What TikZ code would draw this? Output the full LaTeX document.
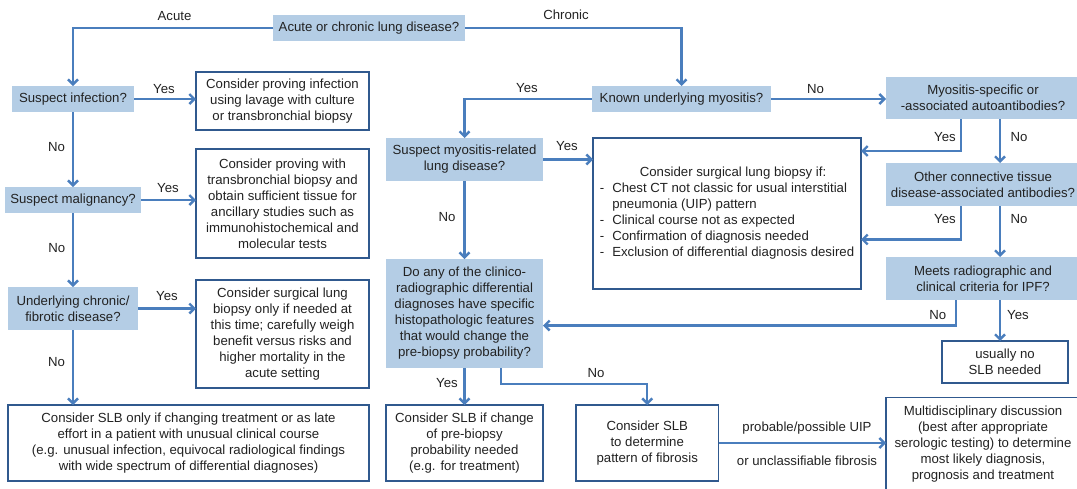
\documentclass[tikz,border=0pt]{standalone}
\usepackage{fontspec}
\setmainfont{Liberation Sans}
\usetikzlibrary{arrows.meta}

\definecolor{qfill}{HTML}{B4CDE5}
\definecolor{conncol}{HTML}{4A7EBD}
\definecolor{boxedge}{HTML}{30598E}
\definecolor{txt}{HTML}{222222}

\tikzset{
  base/.style={inner sep=0pt, outer sep=0pt, align=center, text=txt,
    font=\fontsize{13.2}{16}\selectfont},
  qbox/.style={base, fill=qfill},
  abox/.style={base, draw=boxedge, line width=1.1pt, fill=white},
  conn/.style={draw=conncol, line width=2.4pt,
    -{Straight Barb[length=5pt,width=10pt]}},
  lbl/.style={base, text height=9.5pt, text depth=0pt},
}

\begin{document}
\begin{tikzpicture}[x=1pt,y=-1pt]
\useasboundingbox (0,0) rectangle (1077,488);
\clip (0,0) rectangle (1077,488);

% ---- question boxes (filled) ----
\node[qbox, minimum width=192pt, minimum height=26pt] (q0) at (369,28) {Acute or chronic lung disease?};
\node[qbox, minimum width=122pt, minimum height=26pt] (q1) at (73,99) {Suspect infection?};
\node[qbox, minimum width=136pt, minimum height=26pt] (q2) at (73,200) {Suspect malignancy?};
\node[qbox, minimum width=130pt, minimum height=43pt] (q3) at (73,308.5) {Underlying chronic/\\fibrotic disease?};
\node[qbox, minimum width=179pt, minimum height=26pt] (q4) at (681.5,99) {Known underlying myositis?};
\node[qbox, minimum width=157pt, minimum height=43pt] (q5) at (464.5,159.5) {Suspect myositis-related\\lung disease?};
\node[qbox, minimum width=194pt, minimum height=42pt] (q6) at (983,98) {Myositis-specific or\\-associated autoantibodies?};
\node[qbox, minimum width=194pt, minimum height=43pt] (q7) at (983,184.5) {Other connective tissue\\disease-associated antibodies?};
\node[qbox, minimum width=194pt, minimum height=43pt] (q8) at (983,278.5) {Meets radiographic and\\clinical criteria for IPF?};
\node[qbox, minimum width=157pt, minimum height=109pt] (q9) at (464.5,313.5) {Do any of the clinico-\\radiographic differential\\diagnoses have specific\\histopathologic features\\that would change the\\pre-biopsy probability?};

% ---- outcome boxes (outlined) ----
\node[abox, minimum width=173pt, minimum height=58pt] (a1) at (282.5,101) {Consider proving infection\\using lavage with culture\\or transbronchial biopsy};
\node[abox, minimum width=173pt, minimum height=109pt] (a2) at (282.5,203.5) {Consider proving with\\transbronchial biopsy and\\obtain sufficient tissue for\\ancillary studies such as\\immunohistochemical and\\molecular tests};
\node[abox, minimum width=173pt, minimum height=108pt] (a3) at (282.5,334) {Consider surgical lung\\biopsy only if needed at\\this time; carefully weigh\\benefit versus risks and\\higher mortality in the\\acute setting};
\node[abox, minimum width=361pt, minimum height=76pt] (a4) at (188.5,443) {Consider SLB only if changing treatment or as late\\effort in a patient with unusual clinical course\\(e.g. unusual infection, equivocal radiological findings\\with wide spectrum of differential diagnoses)};
\node[abox, minimum width=268pt, minimum height=151pt] (b1) at (727,213.5) {%
  \begin{tabular}{@{}l@{\hspace{8pt}}l@{}}
  \multicolumn{2}{@{}l@{}}{\hspace{40pt}Consider surgical lung biopsy if:}\\
  - & Chest CT not classic for usual interstitial\\
    & pneumonia (UIP) pattern\\
  - & Clinical course not as expected\\
  - & Confirmation of diagnosis needed\\
  - & Exclusion of differential diagnosis desired
  \end{tabular}};
\node[abox, minimum width=126pt, minimum height=42pt] (a5) at (1005,362) {usually no\\SLB needed};
\node[abox, minimum width=157pt, minimum height=76pt] (a6) at (464.5,443) {Consider SLB if change\\of pre-biopsy\\probability needed\\(e.g. for treatment)};
\node[abox, minimum width=142.5pt, minimum height=76pt] (a7) at (647.25,443) {Consider SLB\\to determine\\pattern of fibrosis};
\node[abox, minimum width=194pt, minimum height=92pt] (a8) at (983,443.75) {Multidisciplinary discussion\\(best after appropriate\\serologic testing) to determine\\most likely diagnosis,\\prognosis and treatment};

% ---- bend points ----
\coordinate (c6) at (961,151);
\coordinate (c7) at (961,239.5);
\coordinate (c8) at (956,325.5);
\coordinate (c9) at (501,384);
\coordinate (cr) at (1000,0);

% ---- connectors ----
\draw[conn] (q0.west) -| (q1.north);
\draw[conn] (q0.east) -| (q4.north);
\draw[conn] (q1.east) -- (a1.west |- q1.east);
\draw[conn] (q1.south) -- (q2.north);
\draw[conn] (q2.east) -- (a2.west |- q2.east);
\draw[conn] (q2.south) -- (q3.north);
\draw[conn] (q3.east) -- (a3.west |- q3.east);
\draw[conn] (q3.south) -- (a4.north -| q3.south);
\draw[conn] (q4.west) -| (q5.north);
\draw[conn] (q4.east) -- (q6.west |- q4.east);
\draw[conn] (q5.east) -- (b1.west |- q5.east);
\draw[conn] (q5.south) -- (q9.north);
\draw[conn] (q6.south -| c6) |- (b1.east |- c6);
\draw[conn] (q6.south -| cr) -- (q7.north -| cr);
\draw[conn] (q7.south -| c7) |- (b1.east |- c7);
\draw[conn] (q7.south -| cr) -- (q8.north -| cr);
\draw[conn] (q8.south -| c8) |- (q9.east |- c8);
\draw[conn] (q8.south -| cr) -- (a5.north -| cr);
\draw[conn] (q9.south) -- (a6.north);
\draw[conn] (q9.south -| c9) -- (c9) -| (a7.north);
\draw[conn] (a7.east) -- (a8.west |- a7.east);

% ---- branch labels ----
\node[lbl] (lacute) at (174.5,15.5) {Acute};
\node[lbl] (lchronic) at (566,15) {Chronic};
\node[lbl] (ly1) at (164,88.5) {Yes};
\node[lbl] (ln1) at (56.5,147) {No};
\node[lbl] (ly2) at (168,188) {Yes};
\node[lbl] (ln2) at (56.7,247.7) {No};
\node[lbl] (ly3) at (167,296) {Yes};
\node[lbl] (ln3) at (56.5,361.7) {No};
\node[lbl] (ly4) at (527,87.5) {Yes};
\node[lbl] (ln4) at (815.5,88.5) {No};
\node[lbl] (ly5) at (567,146) {Yes};
\node[lbl] (ln5) at (447,216.7) {No};
\node[lbl] (ly6) at (945,136.7) {Yes};
\node[lbl] (ln6) at (1019,136.7) {No};
\node[lbl] (ly7) at (945,218.3) {Yes};
\node[lbl] (ln7) at (1019,218.3) {No};
\node[lbl] (ln8) at (937.7,315) {No};
\node[lbl] (ly8) at (1018,315) {Yes};
\node[lbl] (ly9) at (447,382.7) {Yes};
\node[lbl] (ln9) at (596,372.7) {No};
\node[lbl] (lp1) at (807,426.7) {probable/possible UIP};
\node[lbl] (lp2) at (807,460.7) {or unclassifiable fibrosis};
\end{tikzpicture}
\end{document}
